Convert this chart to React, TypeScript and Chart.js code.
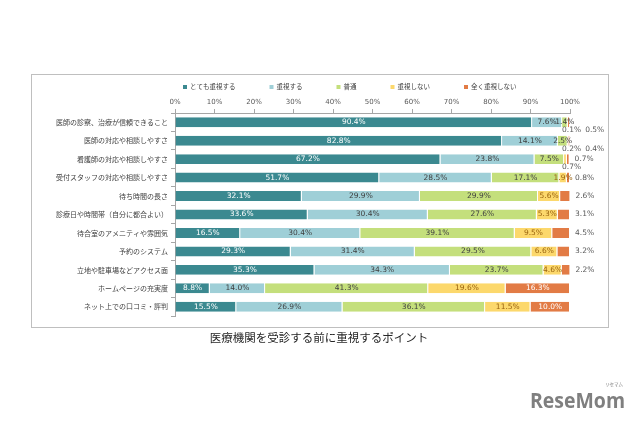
import React, { useEffect, useRef } from "react";
import { Chart, registerables } from "chart.js";

Chart.register(...registerables);

const categories = [
  "医師の診察、治療が信頼できること",
  "医師の対応や相談しやすさ",
  "看護師の対応や相談しやすさ",
  "受付スタッフの対応や相談しやすさ",
  "待ち時間の長さ",
  "診療日や時間帯（自分に都合よい）",
  "待合室のアメニティや雰囲気",
  "予約のシステム",
  "立地や駐車場などアクセス面",
  "ホームページの充実度",
  "ネット上での口コミ・評判",
];

const seriesNames = ["とても重視する", "重視する", "普通", "重視しない", "全く重視しない"];

const veryImportant = [90.4, 82.8, 67.2, 51.7, 32.1, 33.6, 16.5, 29.3, 35.3, 8.8, 15.5];
const important = [7.6, 14.1, 23.8, 28.5, 29.9, 30.4, 30.4, 31.4, 34.3, 14.0, 26.9];
const neutral = [1.4, 2.5, 7.5, 17.1, 29.9, 27.6, 39.1, 29.5, 23.7, 41.3, 36.1];
const notImportant = [0.1, 0.2, 0.7, 1.9, 5.6, 5.3, 9.5, 6.6, 4.6, 19.6, 11.5];
const notAtAll = [0.5, 0.4, 0.7, 0.8, 2.6, 3.1, 4.5, 3.2, 2.2, 16.3, 10.0];

const chartTitle = "医療機関を受診する前に重視するポイント";

const seriesColors = ["#3b8990", "#9fcfd7", "#c4df7c", "#fcd86c", "#e27b45"];
const labelColors = ["#ffffff", "#404040", "#404040", "#9a6410", "#ffffff"];
const outsideColor = "#595959";

const JP = '"Noto Sans CJK JP", "Noto Sans", sans-serif';
const NUM = '"DejaVu Sans", sans-serif';

const framePlugin = {
  id: "frame",
  beforeDraw(chart: any) {
    const ctx = chart.ctx;
    ctx.save();
    ctx.fillStyle = "#ffffff";
    ctx.fillRect(0, 0, chart.width, chart.height);
    ctx.strokeStyle = "#bfbfbf";
    ctx.lineWidth = 1;
    ctx.strokeRect(31.5, 74.5, 577, 253);
    ctx.restore();
  },
  afterDraw(chart: any) {
    const ctx = chart.ctx;
    const area = chart.chartArea;
    ctx.save();
    // legend
    ctx.font = `6.5px ${JP}`;
    ctx.textBaseline = "middle";
    ctx.textAlign = "left";
    let x = area.left + 10;
    const ly = 87;
    seriesNames.forEach((name, i) => {
      ctx.fillStyle = seriesColors[i];
      ctx.fillRect(x - 2, ly - 2, 4, 4);
      ctx.fillStyle = "#404040";
      ctx.fillText(name, x + 5, ly);
      x += 5 + ctx.measureText(name).width + 36;
    });
    // title
    ctx.font = `11.5px ${JP}`;
    ctx.fillStyle = "#262626";
    ctx.textAlign = "center";
    ctx.fillText(chartTitle, 319, 338);
    // logo
    ctx.textAlign = "left";
    ctx.textBaseline = "alphabetic";
    ctx.fillStyle = "#7f7f7f";
    ctx.font = `bold 21px "Open Sans", sans-serif`;
    ctx.fillText("ReseMom", 530, 408, 95);
    ctx.font = `4.5px ${JP}`;
    ctx.fillText("リセマム", 605, 386);
    ctx.restore();
  },
};

const labelPlugin = {
  id: "segLabels",
  afterDatasetsDraw(chart: any) {
    const ctx = chart.ctx;
    const xs = chart.scales.x;
    const n = chart.data.labels.length;
    const nd = chart.data.datasets.length;
    ctx.save();
    ctx.font = `7.5px ${NUM}`;
    ctx.textBaseline = "middle";
    for (let j = 0; j < n; j++) {
      let earlyOverflow = false;
      let belowX = xs.getPixelForValue(98);
      for (let i = 0; i < nd; i++) {
        const el = chart.getDatasetMeta(i).data[j];
        const v = chart.data.datasets[i].data[j] as number;
        const txt = v.toFixed(1) + "%";
        const tw = ctx.measureText(txt).width;
        const x0 = el.base;
        const x1 = el.x;
        const y = el.y;
        const w = x1 - x0;
        const last = i === nd - 1;
        if (w >= tw + 3) {
          ctx.fillStyle = labelColors[i];
          ctx.textAlign = "center";
          ctx.fillText(txt, (x0 + x1) / 2, y);
        } else if (!last && v >= 1) {
          ctx.fillStyle = i === 3 ? labelColors[i] : "#404040";
          ctx.textAlign = "center";
          ctx.fillText(txt, (x0 + x1) / 2, y);
          if (i <= nd - 3) earlyOverflow = true;
        } else if (last && !earlyOverflow) {
          ctx.fillStyle = outsideColor;
          ctx.textAlign = "left";
          ctx.fillText(txt, x1 + 5, y);
        } else {
          ctx.fillStyle = outsideColor;
          ctx.textAlign = "left";
          ctx.fillText(txt, belowX, y + 8);
          belowX += tw + 4;
        }
      }
    }
    ctx.restore();
  },
};

export default function App() {
  const canvasRef = useRef<HTMLCanvasElement | null>(null);

  useEffect(() => {
    const canvas = canvasRef.current;
    if (!canvas) return;
    const seriesData = [veryImportant, important, neutral, notImportant, notAtAll];
    const chart = new Chart(canvas, {
      type: "bar",
      data: {
        labels: categories,
        datasets: seriesNames.map((name, i) => ({
          label: name,
          data: seriesData[i],
          backgroundColor: seriesColors[i],
          borderColor: "#ffffff",
          borderWidth: { left: 0, top: 0, bottom: 0, right: 1 },
          borderSkipped: false,
          barPercentage: 0.54,
          categoryPercentage: 1,
        })),
      },
      options: {
        indexAxis: "y",
        responsive: false,
        animation: false,
        layout: { padding: { left: 31, right: 70, top: 74, bottom: 110 } },
        plugins: {
          legend: { display: false },
          title: { display: false },
          tooltip: { enabled: false },
        },
        scales: {
          x: {
            position: "top",
            stacked: true,
            min: 0,
            max: 100,
            ticks: {
              stepSize: 10,
              callback: (v: any) => v + "%",
              font: { family: NUM, size: 7 },
              color: "#595959",
              padding: 3,
              maxRotation: 0,
            },
            grid: { drawOnChartArea: false, tickLength: 4, color: "#a6a6a6" },
            border: { color: "#a6a6a6" },
            afterFit: (s: any) => {
              s.height = 39;
            },
          },
          y: {
            stacked: true,
            ticks: {
              autoSkip: false,
              font: { family: JP, size: 7 },
              color: "#404040",
              padding: 3,
            },
            grid: { drawOnChartArea: false, offset: true, tickLength: 4, color: "#a6a6a6" },
            border: { color: "#a6a6a6" },
            afterFit: (s: any) => {
              s.width = 144;
            },
          },
        },
      },
      plugins: [framePlugin, labelPlugin],
    });
    return () => chart.destroy();
  }, []);

  return (
    <div style={{ position: "absolute", left: 0, top: 0, width: 640, height: 426, background: "#ffffff" }}>
      <canvas ref={canvasRef} width={640} height={426} style={{ width: 640, height: 426, display: "block" }} />
    </div>
  );
}
